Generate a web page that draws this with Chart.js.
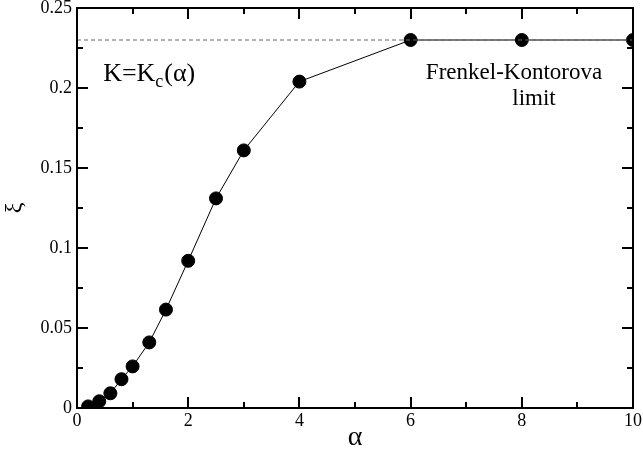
<!DOCTYPE html>
<html>
<head>
<meta charset="utf-8">
<script src="https://cdn.jsdelivr.net/npm/chart.js@4/dist/chart.umd.min.js"></script>
<style>
  html, body { margin: 0; padding: 0; background: #fff; }
  #wrap { width: 643px; height: 454px; }
</style>
</head>
<body>
<div id="wrap"><canvas id="myChart" width="643" height="454"></canvas></div>
<script>
// alpha -> xi at K = Kc(alpha)
const alphaData = [0.2, 0.4, 0.6, 0.8, 1.0, 1.3, 1.6, 2.0, 2.5, 3.0, 4.0, 6.0, 8.0, 10.0];
const xiData = [0.001, 0.0042, 0.0092, 0.018, 0.026, 0.041, 0.0615, 0.092, 0.131, 0.161, 0.204, 0.23, 0.23, 0.23];

// Frenkel-Kontorova limit (dashed)
const fkX = [0, 10];
const fkY = [0.23, 0.23];

const xTicks = [0, 2, 4, 6, 8, 10];
const xMinor = [1, 3, 5, 7, 9];
const yTicks = [0, 0.05, 0.1, 0.15, 0.2, 0.25];
const yMinor = [0.025, 0.075, 0.125, 0.175, 0.225];

const serif = "'Liberation Serif', 'Times New Roman', serif";

// box around the plot + inward ticks on all four sides, plus the text notes
const frameTicks = {
  id: 'frameTicks',
  afterDatasetsDraw(chart) {
    const ctx = chart.ctx;
    const a = chart.chartArea;
    const x = chart.scales.x, y = chart.scales.y;
    ctx.save();
    ctx.strokeStyle = '#000';
    ctx.lineWidth = 2;
    ctx.strokeRect(a.left, a.top, a.right - a.left, a.bottom - a.top);

    function xt(v, len) {
      const px = Math.round(x.getPixelForValue(v));
      ctx.beginPath();
      ctx.moveTo(px, a.bottom); ctx.lineTo(px, a.bottom - len);
      ctx.moveTo(px, a.top); ctx.lineTo(px, a.top + len);
      ctx.stroke();
    }
    function yt(v, len) {
      const py = Math.round(y.getPixelForValue(v));
      ctx.beginPath();
      ctx.moveTo(a.left, py); ctx.lineTo(a.left + len, py);
      ctx.moveTo(a.right, py); ctx.lineTo(a.right - len, py);
      ctx.stroke();
    }
    xTicks.forEach(v => xt(v, 11));
    xMinor.forEach(v => xt(v, 6));
    yTicks.forEach(v => yt(v, 11));
    yMinor.forEach(v => yt(v, 6));

    // K=Kc(alpha)
    ctx.fillStyle = '#000';
    ctx.textBaseline = 'alphabetic';
    ctx.textAlign = 'left';
    let tx = x.getPixelForValue(0.47);
    const ty = y.getPixelForValue(0.2045);
    ctx.font = '26px ' + serif;
    ctx.fillText('K=K', tx, ty);
    tx += ctx.measureText('K=K').width;
    ctx.font = '18px ' + serif;
    ctx.fillText('c', tx, ty + 6);
    tx += ctx.measureText('c').width + 1;
    ctx.font = '26px ' + serif;
    ctx.fillText('(\u03b1)', tx, ty);

    // Frenkel-Kontorova limit
    ctx.font = '23px ' + serif;
    ctx.textAlign = 'center';
    ctx.fillText('Frenkel-Kontorova', x.getPixelForValue(7.86), y.getPixelForValue(0.2055));
    ctx.fillText('limit', x.getPixelForValue(8.22), y.getPixelForValue(0.1895));
    ctx.restore();
  }
};

new Chart(document.getElementById('myChart'), {
  type: 'scatter',
  data: {
    datasets: [
      {
        label: 'FK limit',
        data: fkX.map((v, i) => ({ x: v, y: fkY[i] })),
        showLine: true,
        borderColor: '#666',
        borderWidth: 1,
        borderDash: [4, 3],
        pointRadius: 0
      },
      {
        label: 'xi',
        data: alphaData.map((v, i) => ({ x: v, y: xiData[i] })),
        showLine: true,
        borderColor: '#000',
        borderWidth: 1,
        backgroundColor: '#000',
        pointRadius: 6.5,
        pointHoverRadius: 6.5
      }
    ]
  },
  options: {
    responsive: false,
    animation: false,
    events: [],
    layout: { padding: { top: 8, right: 10, left: 0, bottom: 0 } },
    plugins: { legend: { display: false }, tooltip: { enabled: false } },
    scales: {
      x: {
        type: 'linear',
        min: 0, max: 10,
        afterBuildTicks: s => { s.ticks = xTicks.map(v => ({ value: v })); },
        afterFit: s => { s.height = 46; s.paddingLeft = 0; s.paddingRight = 0; },
        grid: { display: false, drawTicks: false },
        border: { display: false },
        ticks: {
          padding: 2,
          color: '#000',
          font: { family: serif, size: 18 },
          maxRotation: 0,
          callback: v => String(v)
        },
        title: {
          display: true,
          text: '\u03b1',
          color: '#000',
          font: { family: serif, size: 28 },
          padding: { top: 0, bottom: 0 }
        }
      },
      y: {
        type: 'linear',
        min: 0, max: 0.25,
        afterBuildTicks: s => { s.ticks = yTicks.map(v => ({ value: v })); },
        afterFit: s => { s.width = 77; s.paddingTop = 0; s.paddingBottom = 0; },
        grid: { display: false, drawTicks: false },
        border: { display: false },
        ticks: {
          padding: 5,
          color: '#000',
          font: { family: serif, size: 18 },
          callback: v => String(v)
        },
        title: {
          display: true,
          text: '\u03be',
          color: '#000',
          font: { family: serif, size: 24 },
          padding: { top: 0, bottom: 8 }
        }
      }
    }
  },
  plugins: [frameTicks]
});
</script>
</body>
</html>
